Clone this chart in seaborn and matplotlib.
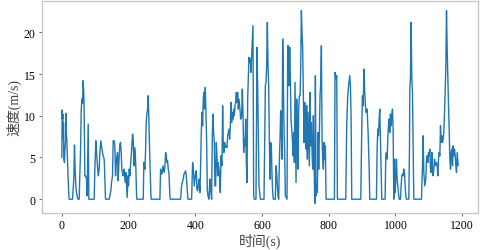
import numpy as np
import pandas as pd
import matplotlib
matplotlib.use('Agg')
import matplotlib.pyplot as plt
import seaborn as sns

# ── speed trace as (time s, speed m/s) vertices
seg_a = [(0, 5.0), (1, 10.7), (2, 9.6), (3, 10.2), (4, 7.2), (5, 9.2), (6, 4.8), (8, 4.4), (9, 5.6),
         (11, 7.0), (12, 10.3), (13, 8.0), (15, 7.2), (17, 4.6), (19, 2.4), (21, 0.4), (22, 0), (32, 0),
         (34, 1.2), (36, 2.5), (38, 6.5), (40, 3.5), (42, 1.5), (46, 0.3), (49, 0), (52, 0), (54, 3.0),
         (56, 5.5), (58, 10.5), (60, 12.0), (62, 11.5), (64, 14.2), (66, 12.5), (67, 10.5), (69, 2.8),
         (71, 2.8), (74, 2.4), (76, 0.4), (79, 9.0), (81, 0), (97, 0), (99, 3.6), (102, 7.0), (104, 5.6),
         (107, 4.0), (109, 2.8), (112, 3.6), (114, 5.6), (117, 7.0), (119, 6.4), (121, 5.8), (124, 5.2),
         (127, 4.8), (129, 2.4), (131, 0), (142, 0), (145, 0.6), (147, 1.0), (149, 2.0), (152, 2.8),
         (154, 7.0), (157, 7.0), (159, 6.4), (161, 2.8), (164, 4.8), (167, 5.6), (169, 2.2), (171, 4.4),
         (174, 6.6), (176, 6.8), (178, 5.6), (180, 3.4), (182, 3.2), (184, 2.8), (186, 3.6)]

seg_b = [(188, 2.8), (190, 2.0), (192, 3.2), (194, 1.6), (196, 0.2), (198, 2.8), (200, 1.6), (202, 3.6),
         (204, 2.8), (206, 4.2), (208, 5.2), (210, 6.6), (212, 7.8), (214, 7.2), (216, 4.0), (218, 6.2),
         (220, 5.6), (222, 3.6), (224, 0.5), (225, 0), (244, 0), (246, 4.4), (249, 3.6), (251, 5.8),
         (253, 9.2), (255, 10.2), (257, 10.8), (259, 12.4), (261, 9.6), (263, 6.0), (265, 3.2), (267, 0.5),
         (268, 0), (294, 0), (296, 3.6), (299, 3.0), (301, 3.2), (303, 4.0), (305, 3.6), (307, 3.2),
         (309, 4.0), (311, 5.6), (313, 5.2), (315, 4.4), (317, 4.6), (319, 3.6), (321, 3.2), (324, 0.4),
         (325, 0), (356, 0), (359, 1.6), (361, 2.0), (364, 2.4), (366, 3.0), (369, 3.2), (371, 3.4),
         (373, 2.8), (376, 1.2), (378, 0), (389, 0), (392, 4.4), (395, 3.2), (397, 1.6), (400, 2.8),
         (403, 3.4), (405, 1.2), (407, 1.0), (409, 1.6), (411, 2.4), (414, 0.8), (416, 4.0), (418, 8.0),
         (420, 10.4), (422, 8.8), (424, 12.0), (426, 12.8), (428, 10.8), (430, 13.4), (432, 10.4),
         (434, 7.2), (436, 1.2), (438, 0.4), (441, 0), (444, 2.4), (446, 1.2), (449, 0), (451, 7.6),
         (453, 10.2), (455, 8.0), (457, 6.8)]

seg_c = [(459, 1.6), (461, 1.6), (463, 6.8), (465, 5.2), (467, 2.8), (469, 4.4), (472, 3.2), (475, 0.8),
         (477, 5.2), (480, 4.0), (482, 11.2), (484, 6.4), (486, 5.6), (488, 6.8), (490, 6.2), (492, 6.4),
         (495, 6.2), (497, 7.6), (499, 8.0), (501, 8.4), (503, 7.2), (505, 8.8), (507, 11.6), (509, 9.2),
         (511, 10.4), (513, 9.6), (515, 10.8), (517, 10.0), (519, 11.2), (521, 11.6), (523, 12.8),
         (525, 11.6), (527, 12.8), (529, 10.8), (531, 12.0), (534, 10.8), (536, 9.6), (539, 10.0),
         (541, 13.2), (543, 10.4), (545, 5.6), (547, 7.2), (549, 6.4), (551, 9.6), (553, 4.4), (555, 2.0),
         (557, 12.0), (559, 14.4), (561, 17.0), (563, 16.4), (565, 16.8), (567, 15.2), (569, 17.2),
         (573, 20.8), (575, 0.4), (577, 0), (582, 0), (585, 18.2), (587, 13.6), (589, 7.6), (591, 1.6),
         (593, 0.8), (595, 0), (606, 0), (608, 6.4), (610, 13.6), (612, 14.0), (614, 16.0), (616, 21.2),
         (618, 16.0), (620, 13.6), (622, 7.2), (624, 2.4), (626, 6.8), (628, 6.4), (630, 2.8), (632, 0.8),
         (634, 0), (640, 0), (642, 4.0), (644, 3.2), (646, 1.6), (648, 0.4), (650, 0), (652, 4.4),
         (654, 7.2), (656, 10.6), (658, 8.4), (660, 4.8), (662, 19.2), (664, 14.4), (666, 8.4), (668, 5.6),
         (670, 0.4), (675, 0), (677, 18.4), (679, 18.4), (681, 13.6), (683, 18.2), (685, 14.4), (687, 9.6),
         (689, 8.4), (691, 7.2), (693, 5.2), (695, 8.0), (697, 4.4)]

seg_d = [(699, 14.0), (702, 2.0), (704, 12.0), (706, 6.4), (708, 3.6), (710, 10.8), (712, 12.4),
         (714, 12.4), (716, 15.6), (718, 22.6), (720, 20.0), (722, 18.0), (724, 12.0), (726, 6.8),
         (728, 11.6), (730, 9.6), (732, 6.0), (734, 11.2), (736, 4.8), (738, 10.4), (740, 7.2), (742, 4.0),
         (744, 12.8), (746, 6.4), (748, 9.2), (750, 5.6), (752, 3.6), (754, 10.0), (756, 4.4), (758, 0),
         (759, -0.5), (760, 14.8), (762, 0.4), (764, 1.6), (766, 0.8), (768, 8.0), (770, 3.6), (772, 8.0),
         (774, 12.4), (776, 14.0), (778, 18.4), (780, 7.2), (782, 4.8), (784, 3.6), (786, 6.8), (788, 4.8),
         (790, 6.4), (792, 0), (817, 0), (819, 15.2), (822, 14.4), (824, 14.8), (826, 0), (851, 0),
         (854, 9.2), (857, 12.4), (860, 13.8), (863, 14.8), (865, 13.6), (867, 10.0), (869, 0), (896, 0),
         (899, 8.4), (901, 12.4), (903, 11.2), (906, 15.6), (908, 12.8), (910, 11.2), (912, 10.4),
         (915, 10.8), (918, 8.0), (921, 4.0), (923, 0), (943, 0), (945, 6.0), (947, 8.4), (949, 7.6),
         (951, 9.6), (953, 10.8), (955, 7.2), (957, 4.0), (959, 0)]

seg_e = [(969, 0), (971, 5.2), (973, 5.6), (975, 4.8), (977, 7.2), (979, 8.8), (981, 9.6), (983, 8.0),
         (985, 10.2), (987, 8.8), (989, 10.0), (991, 10.8), (993, 8.4), (995, 0), (997, 4.8), (999, 0.8),
         (1001, 2.4), (1003, 4.8), (1005, 2.4), (1007, 1.6), (1009, 0.8), (1011, 0), (1015, 0),
         (1017, 1.6), (1019, 2.8), (1021, 3.0), (1023, 2.8), (1025, 3.6), (1027, 3.2), (1029, 1.6),
         (1031, 0.4), (1033, 0), (1040, 0), (1042, 6.0), (1043, 13.2), (1045, 14.6), (1047, 21.2),
         (1049, 14.4), (1051, 12.8), (1053, 6.4), (1055, 0), (1078, 0), (1081, 4.0), (1083, 7.6),
         (1085, 3.2), (1088, 1.6), (1091, 2.4), (1093, 4.8), (1095, 5.2), (1097, 4.4), (1099, 5.6),
         (1101, 5.2), (1103, 6.0), (1105, 3.6), (1107, 3.2), (1109, 5.6), (1111, 3.6), (1113, 2.8),
         (1115, 3.6), (1117, 4.8), (1119, 4.0), (1121, 4.4), (1123, 4.4), (1125, 4.0), (1127, 2.8),
         (1129, 4.8), (1131, 5.6), (1133, 5.2), (1135, 8.8), (1137, 6.8), (1139, 7.6), (1141, 6.8),
         (1143, 7.2), (1145, 8.0), (1147, 10.4), (1149, 12.8), (1151, 16.0), (1153, 22.6), (1155, 18.0),
         (1157, 14.4), (1159, 11.2), (1161, 8.4), (1163, 4.8), (1165, 3.6), (1167, 5.6), (1169, 6.0),
         (1171, 4.0), (1173, 6.4), (1175, 5.2), (1177, 6.0), (1179, 5.2), (1181, 4.0), (1183, 3.2),
         (1185, 5.6), (1187, 4.4), (1188, 4.0)]

trace = seg_a + seg_b + seg_c + seg_d + seg_e
df = pd.DataFrame(trace, columns=['time', 'speed'])

# ── style
sns.set_style('white')
plt.rcParams['font.family'] = ['Liberation Serif', 'Noto Sans CJK SC']
EDGE = '#c4c4c4'

fig = plt.figure(figsize=(4.87, 2.51), dpi=100)
ax = fig.add_axes([42 / 487, 37 / 251, 436 / 487, 212 / 251])

sns.lineplot(data=df, x='time', y='speed', ax=ax, color='#1f77b4',
             linewidth=1.0, sort=False, estimator=None)

ax.set_xticks([0, 200, 400, 600, 800, 1000, 1200])
ax.set_yticks([0, 5, 10, 15, 20])
ax.tick_params(axis='both', labelsize=8.5, length=2.5, width=0.6,
               color='#555555', labelcolor='black', pad=2, direction='out',
               bottom=True, left=True)
for s in ax.spines.values():
    s.set_color(EDGE)
    s.set_linewidth(0.9)

ax.set_xlabel('时间(s)', fontsize=10, color='#444444', labelpad=1)
ax.set_ylabel('速度(m/s)', fontsize=10, color='#444444', labelpad=2)

fig.savefig('out.png', dpi=100, facecolor='white')
